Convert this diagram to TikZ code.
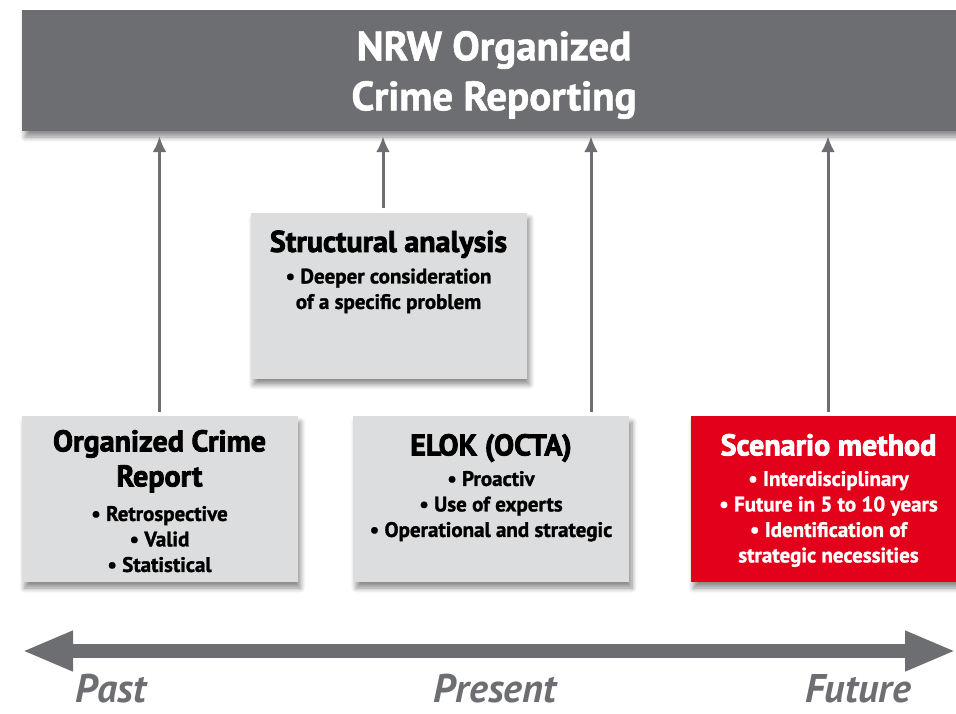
\documentclass[tikz,border=0pt]{standalone}
\usepackage{fontspec}
\setmainfont{PT Sans}[BoldFeatures={FakeBold=1.3}]
\newfontfamily\heavyfont{PT Sans}[UprightFont={* Bold}, FakeBold=2.6]
\usepackage{xcolor}
\usetikzlibrary{positioning,arrows.meta,shadows.blur}

\definecolor{ocgray}{HTML}{6D6E71}
\definecolor{boxgray}{HTML}{DCDDDE}
\definecolor{ocred}{HTML}{E2001A}

\begin{document}
\begin{tikzpicture}[
    x=1pt, y=-1pt,
    >=Latex,
    shade/.style={blur shadow={shadow xshift=3pt, shadow yshift=-6pt, shadow blur radius=5pt, shadow blur steps=8, shadow opacity=45}},
    bar/.style={rectangle, fill=ocgray, minimum width=944pt, minimum height=121pt, inner sep=0pt, shade},
    box/.style={rectangle, fill=boxgray, minimum width=276pt, minimum height=166pt, inner sep=0pt, shade},
    title/.style={align=center, inner sep=0pt, text=white, font=\bfseries\fontsize{41}{50}\selectfont},
    head/.style={align=center, inner sep=0pt, font=\heavyfont\fontsize{30}{35}\selectfont},
    items/.style={align=center, inner sep=0pt, font=\bfseries\fontsize{21}{25.5}\selectfont},
    up/.style={draw=ocgray, line width=3pt, -{Latex[length=16pt,width=14pt]}, shorten >=5pt, shorten <=4pt},
    era/.style={anchor=base, inner sep=0pt, text=ocgray, font=\bfseries\itshape\fontsize{40}{44}\selectfont}
]
\useasboundingbox (0,0) rectangle (956,713);

% Reporting bar
\node[bar] (nrw) at (494,70.5) {};
\node[title] (nrwtitle) at (494,75) {NRW Organized\\Crime Reporting};

% Boxes
\node[box] (ocr) at (159.5,499) {};
\node[head, below=14pt of ocr.north] (ocrhead) {Organized Crime\\Report};
\node[items, below=90pt of ocr.north] (ocritems) {• Retrospective\\• Valid\\• Statistical};

\node[box] (struct) at (388.5,295.5) {};
\node[head, below=18pt of struct.north] (structhead) {Structural analysis};
\node[items, below=56pt of struct.north] (structitems) {• Deeper consideration\\of a specific problem};

\node[box] (elok) at (491,499) {};
\node[head, below=18pt of elok.north] (elokhead) {ELOK (OCTA)};
\node[items, below=55pt of elok.north] (elokitems) {• Proactiv\\• Use of experts\\• Operational and strategic};

\node[box, fill=ocred] (scen) at (828.5,499) {};
\node[head, text=white, below=18pt of scen.north] (scenhead) {Scenario method};
\node[items, text=white, below=55pt of scen.north] (scenitems) {• Interdisciplinary\\• Future in 5 to 10 years\\• Identification of\\strategic necessities};

% Arrows up to the bar
\draw[up] (ocr.north) -- (ocr.north |- nrw.south);
\draw[up] ([xshift=-5.5pt]struct.north) -- ([xshift=-5.5pt]struct.north |- nrw.south);
\draw[up] ([xshift=100pt]elok.north) -- ([xshift=100pt]elok.north |- nrw.south);
\draw[up] ([xshift=-0.5pt]scen.north) -- ([xshift=-0.5pt]scen.north |- nrw.south);

% Time line
\coordinate (pastend) at (22,651);
\coordinate (futend) at (956,651);
\draw[ocgray, line width=14pt, {Triangle[length=51pt,width=37pt]}-{Triangle[length=51pt,width=37pt]}] (pastend) -- (futend);

\node[era] (past) at (111,702) {Past};
\node[era] (present) at (495,702) {Present};
\node[era] (future) at (858,702) {Future};
\end{tikzpicture}
\end{document}
